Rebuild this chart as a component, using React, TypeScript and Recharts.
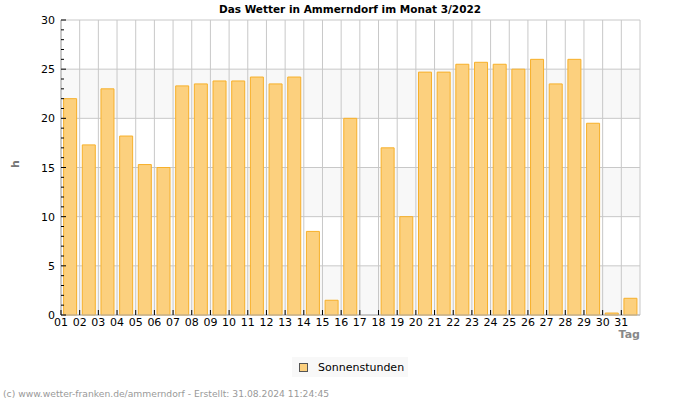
import React from "react";
import { BarChart, Bar, XAxis, YAxis, CartesianGrid } from "recharts";

const days = [
  "01", "02", "03", "04", "05", "06", "07", "08", "09", "10",
  "11", "12", "13", "14", "15", "16", "17", "18", "19", "20",
  "21", "22", "23", "24", "25", "26", "27", "28", "29", "30", "31",
];
const sunHours = [
  22.0, 17.3, 23.0, 18.2, 15.3, 15.0, 23.3, 23.5, 23.8, 23.8,
  24.2, 23.5, 24.2, 8.5, 1.5, 20.0, 0, 17.0, 10.0, 24.7,
  24.7, 25.5, 25.7, 25.5, 25.0, 26.0, 23.5, 26.0, 19.5, 0.2, 1.7,
];
const yTicks = Array.from({ length: 31 }, (_, i) => i);
const yGridValues = [0, 5, 10, 15, 20, 25, 30];

const data = days.map((d, i) => ({ day: d, sun: sunHours[i] }));

const W = 700;
const H = 400;
const M = { top: 20, right: 60, left: 21, bottom: 55 };
const Y_W = 40;
const PLOT_W = W - M.left - Y_W - M.right;
const BAND = PLOT_W / days.length;
const FONT = "DejaVu Sans, Verdana, sans-serif";

const YTick = (props: any) => {
  const { x, y, payload } = props;
  const major = payload.value % 5 === 0;
  return (
    <g>
      <line x1={x} x2={x + (major ? 5 : 3)} y1={y} y2={y} stroke="#000" />
      {major && (
        <text x={x - 6} y={y + 4} textAnchor="end" fontSize={11} fill="#000" fontFamily={FONT}>
          {payload.value}
        </text>
      )}
    </g>
  );
};

const XTick = (props: any) => {
  const { x, y, payload } = props;
  const bx = x - BAND / 2;
  return (
    <g>
      <line x1={bx} x2={bx} y1={y} y2={y - 5} stroke="#000" />
      <text x={bx} y={y + 11} textAnchor="middle" fontSize={11} fill="#000" fontFamily={FONT}>
        {payload.value}
      </text>
    </g>
  );
};

export default function App() {
  return (
    <div style={{ position: "absolute", left: 0, top: 0, width: W, height: H, background: "#fff", fontFamily: FONT }}>
      <BarChart width={W} height={H} data={data} margin={M} barCategoryGap="14%">
        <CartesianGrid
          stroke="#c8c8c8"
          horizontalValues={yGridValues}
          horizontalFill={["#ffffff", "#f8f8f8"]}
          verticalCoordinatesGenerator={({ offset }: any) =>
            Array.from({ length: days.length + 1 }, (_, i) => offset.left + i * (offset.width / days.length))
          }
        />
        <XAxis
          dataKey="day"
          interval={0}
          tickSize={0}
          tickMargin={0}
          tickLine={false}
          axisLine={{ stroke: "#b0b0b0" }}
          tick={<XTick />}
          height={30}
        />
        <YAxis
          domain={[0, 30]}
          ticks={yTicks}
          interval={0}
          tickSize={0}
          tickMargin={0}
          tickLine={false}
          axisLine={{ stroke: "#b0b0b0" }}
          tick={<YTick />}
          width={Y_W}
        />
        <Bar dataKey="sun" fill="#fcd07e" stroke="#f7b02a" strokeWidth={1} isAnimationActive={false} />
        <text x={350} y={13} textAnchor="middle" fontSize={10.5} fontWeight="bold" fill="#000" fontFamily={FONT}>
          Das Wetter in Ammerndorf im Monat 3/2022
        </text>
        <text
          x={19}
          y={164}
          textAnchor="middle"
          fontSize={11}
          fontWeight="bold"
          fill="#777"
          fontFamily={FONT}
          transform="rotate(-90 19 164)"
        >
          h
        </text>
        <text x={640} y={338} textAnchor="end" fontSize={11} fontWeight="bold" fill="#888" fontFamily={FONT}>
          Tag
        </text>
        <text x={3} y={397} fontSize={9.2} fill="#999" fontFamily={FONT}>
          (c) www.wetter-franken.de/ammerndorf - Erstellt: 31.08.2024 11:24:45
        </text>
      </BarChart>
      <div
        style={{
          position: "absolute",
          left: 292,
          top: 357,
          width: 116,
          height: 20,
          background: "#f8f8f8",
          display: "flex",
          alignItems: "center",
          fontSize: 11,
          color: "#000",
        }}
      >
        <span
          style={{
            display: "inline-block",
            width: 7,
            height: 7,
            marginLeft: 7,
            marginRight: 10,
            background: "#fcd07e",
            border: "1px solid #555",
          }}
        />
        Sonnenstunden
      </div>
    </div>
  );
}
